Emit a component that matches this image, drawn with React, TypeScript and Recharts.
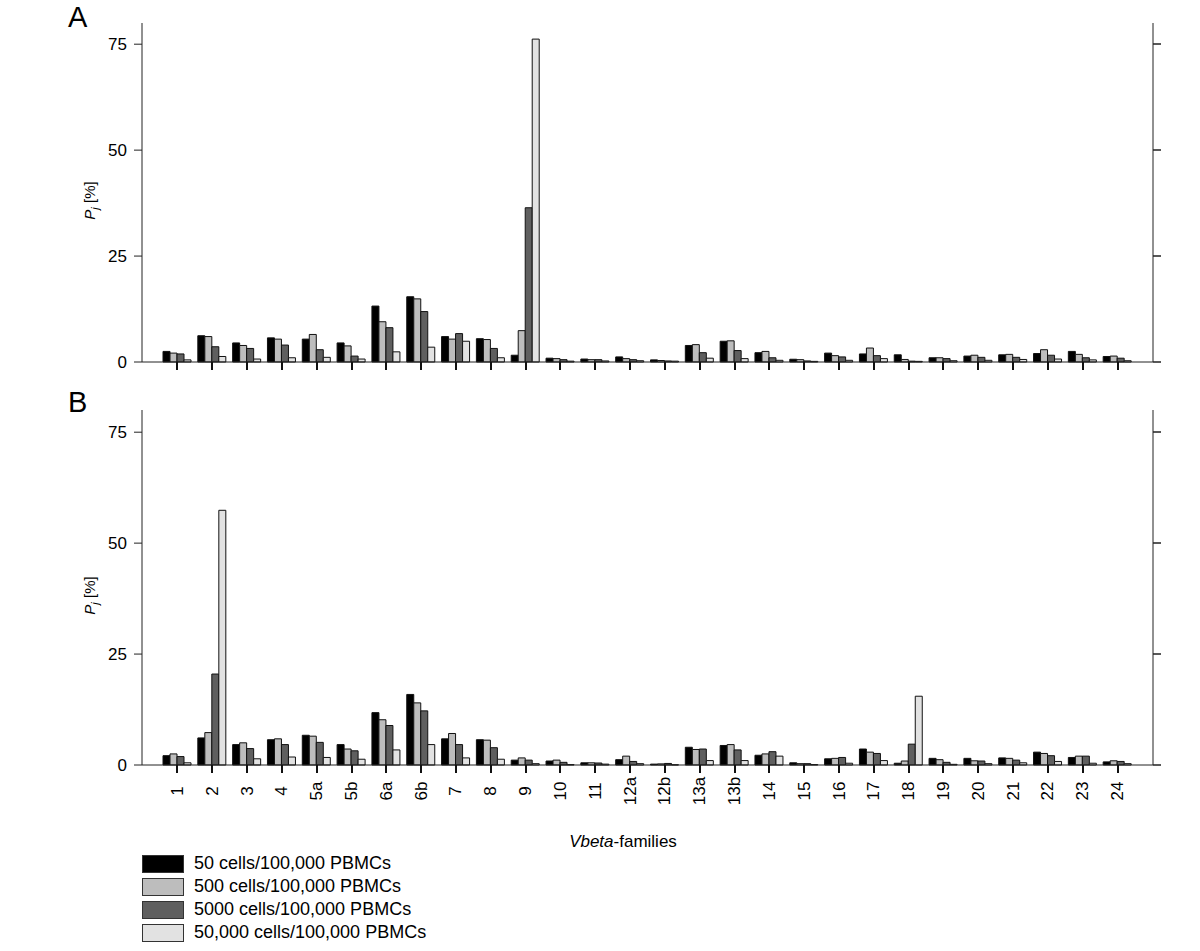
import React from 'react';
import { ComposedChart, Bar, Line, XAxis, YAxis, Label } from 'recharts';

const families = ['1', '2', '3', '4', '5a', '5b', '6a', '6b', '7', '8', '9', '10', '11', '12a', '12b', '13a', '13b', '14', '15', '16', '17', '18', '19', '20', '21', '22', '23', '24'];

const seriesNames = ['50 cells/100,000 PBMCs', '500 cells/100,000 PBMCs', '5000 cells/100,000 PBMCs', '50,000 cells/100,000 PBMCs'];
const seriesColors = ['#000000', '#bdbdbd', '#5f5f5f', '#e2e2e2'];
const yTicks = [0, 25, 50, 75];

// panel A
const a50 = [2.5, 6.2, 4.5, 5.7, 5.4, 4.5, 13.2, 15.4, 6.0, 5.5, 1.6, 0.9, 0.7, 1.2, 0.5, 3.9, 4.9, 2.2, 0.65, 2.1, 1.9, 1.7, 1.0, 1.4, 1.7, 2.0, 2.5, 1.3];
const a500 = [2.1, 6.0, 3.9, 5.4, 6.5, 3.8, 9.5, 14.9, 5.4, 5.3, 7.4, 0.8, 0.55, 0.8, 0.35, 4.1, 5.0, 2.5, 0.55, 1.5, 3.3, 0.6, 1.0, 1.6, 1.8, 2.9, 1.8, 1.4];
const a5000 = [1.9, 3.6, 3.2, 4.0, 2.9, 1.4, 8.1, 11.9, 6.7, 3.2, 36.4, 0.55, 0.55, 0.55, 0.25, 2.2, 2.7, 1.0, 0.25, 1.2, 1.5, 0.2, 0.8, 1.1, 1.1, 1.6, 1.0, 0.9];
const a50000 = [0.5, 1.3, 0.7, 1.0, 1.1, 0.7, 2.4, 3.5, 4.9, 1.0, 76.2, 0.2, 0.25, 0.3, 0.2, 0.9, 0.8, 0.4, 0.15, 0.4, 0.8, 0.15, 0.3, 0.4, 0.6, 0.7, 0.5, 0.3];

// panel B
const b50 = [2.1, 6.1, 4.6, 5.7, 6.7, 4.6, 11.8, 15.9, 5.9, 5.7, 1.1, 0.9, 0.5, 1.2, 0.2, 4.0, 4.4, 2.2, 0.5, 1.4, 3.6, 0.4, 1.5, 1.5, 1.6, 2.9, 1.7, 0.7];
const b500 = [2.5, 7.3, 5.0, 5.9, 6.5, 3.6, 10.2, 14.0, 7.1, 5.6, 1.6, 1.1, 0.5, 2.0, 0.25, 3.5, 4.6, 2.5, 0.3, 1.5, 2.9, 0.9, 1.2, 0.95, 1.5, 2.6, 2.0, 0.95];
const b5000 = [1.9, 20.5, 3.7, 4.6, 5.1, 3.2, 8.9, 12.2, 4.6, 3.9, 1.1, 0.6, 0.45, 0.8, 0.35, 3.6, 3.4, 3.0, 0.3, 1.7, 2.6, 4.7, 0.6, 0.9, 1.1, 2.1, 2.0, 0.8];
const b50000 = [0.5, 57.4, 1.4, 1.8, 1.7, 1.3, 3.4, 4.6, 1.6, 1.3, 0.3, 0.1, 0.2, 0.3, 0.05, 1.0, 1.0, 2.0, 0.1, 0.4, 1.0, 15.5, 0.15, 0.3, 0.5, 0.8, 0.4, 0.3];

const FONT = '"Liberation Sans", Arial, sans-serif';
const AXIS = '#222';
const TICK = 8;

const buildRows = (cols: number[][]) =>
  families.map((f, i) => ({ family: f, s0: cols[0][i], s1: cols[1][i], s2: cols[2][i], s3: cols[3][i] }));

const dataA = buildRows([a50, a500, a5000, a50000]);
const dataB = buildRows([b50, b500, b5000, b50000]);

const YLabel = ({ viewBox }: any) => {
  const cx = 95;
  const cy = viewBox.y + viewBox.height / 2 + 8;
  return (
    <text x={cx} y={cy} transform={`rotate(-90, ${cx}, ${cy})`} textAnchor="middle" fontSize={15} fontFamily={FONT} fill="#000">
      <tspan fontStyle="italic">P</tspan>
      <tspan fontSize={11} fontStyle="italic" dy={4}>j</tspan>
      <tspan dy={-4}> [%]</tspan>
    </text>
  );
};

// tick mark drawn as a thin rect, label optional
const renderXTick = (showLabel: boolean) => (props: any) => {
  const x = Number(props.x);
  const y = Number(props.y);
  const cy = y + 26;
  return (
    <g>
      <rect x={Math.round(x) - 1} y={Math.round(y)} width={2} height={TICK} fill="#111" />
      {showLabel ? (
        <text x={x} y={cy} transform={`rotate(-90, ${x}, ${cy})`} textAnchor="middle" dominantBaseline="central" fontSize={17} fontFamily={FONT} fill="#000">
          {props.payload.value}
        </text>
      ) : null}
    </g>
  );
};

const renderRightTick = (props: any) => {
  const x = Number(props.x);
  const y = Number(props.y);
  return <rect x={x} y={Math.round(y) - 0.75} width={TICK} height={1.5} fill={AXIS} />;
};

function Panel({ data, height, marginTop, marginBottom, xHeight, showLabels }: any) {
  return (
    <ComposedChart
      width={1200}
      height={height}
      data={data}
      margin={{ top: marginTop, right: 7, left: 92, bottom: marginBottom }}
      barSize={7}
      barGap={0}
    >
      <XAxis
        dataKey="family"
        interval={0}
        height={xHeight}
        padding={{ left: 18, right: 18 }}
        stroke={AXIS}
        tickLine={false}
        tickSize={0}
        tickMargin={0}
        tick={renderXTick(showLabels)}
      />
      <YAxis
        yAxisId="l"
        width={50}
        domain={[0, 80]}
        ticks={yTicks}
        stroke={AXIS}
        tickSize={TICK}
        tickMargin={7}
        tick={{ fill: '#000', fontSize: 17, fontFamily: FONT }}
      >
        <Label content={<YLabel />} />
      </YAxis>
      <YAxis
        yAxisId="r"
        orientation="right"
        width={40}
        domain={[0, 80]}
        ticks={yTicks}
        stroke={AXIS}
        tickLine={false}
        tickSize={0}
        tickMargin={0}
        tick={renderRightTick}
      />
      {seriesNames.map((name, i) => (
        <Bar
          key={name}
          yAxisId="l"
          dataKey={`s${i}`}
          name={name}
          fill={seriesColors[i]}
          stroke="#111"
          strokeWidth={1}
          isAnimationActive={false}
        />
      ))}
      {/* invisible series so the right-hand axis gets a scale */}
      <Line yAxisId="r" dataKey="s0" stroke="none" dot={false} activeDot={false} legendType="none" isAnimationActive={false} />
    </ComposedChart>
  );
}

export default function App() {
  return (
    <div style={{ position: 'absolute', left: 0, top: 0, width: 1200, height: 951, background: '#fff', fontFamily: FONT }}>
      <div style={{ position: 'absolute', left: 0, top: 0 }}>
        <Panel data={dataA} height={380} marginTop={23} marginBottom={0} xHeight={18} showLabels={false} />
      </div>
      <div style={{ position: 'absolute', left: 0, top: 380 }}>
        <Panel data={dataB} height={440} marginTop={30} marginBottom={0} xHeight={55} showLabels={true} />
      </div>
      <div style={{ position: 'absolute', left: 68, top: 1, fontSize: 29, lineHeight: '32px' }}>A</div>
      <div style={{ position: 'absolute', left: 68, top: 386, fontSize: 29, lineHeight: '32px' }}>B</div>
      <div style={{ position: 'absolute', left: 523, top: 832, width: 200, textAlign: 'center', fontSize: 17, lineHeight: '20px' }}>
        <i>Vbeta</i>-families
      </div>
      <div style={{ position: 'absolute', left: 142, top: 852 }}>
        {seriesNames.map((name, i) => (
          <div key={name} style={{ display: 'flex', alignItems: 'center', height: 23 }}>
            <div style={{ width: 40, height: 16, background: seriesColors[i], border: '1px solid #333' }} />
            <span style={{ marginLeft: 10, fontSize: 18, color: '#000' }}>{name}</span>
          </div>
        ))}
      </div>
    </div>
  );
}
